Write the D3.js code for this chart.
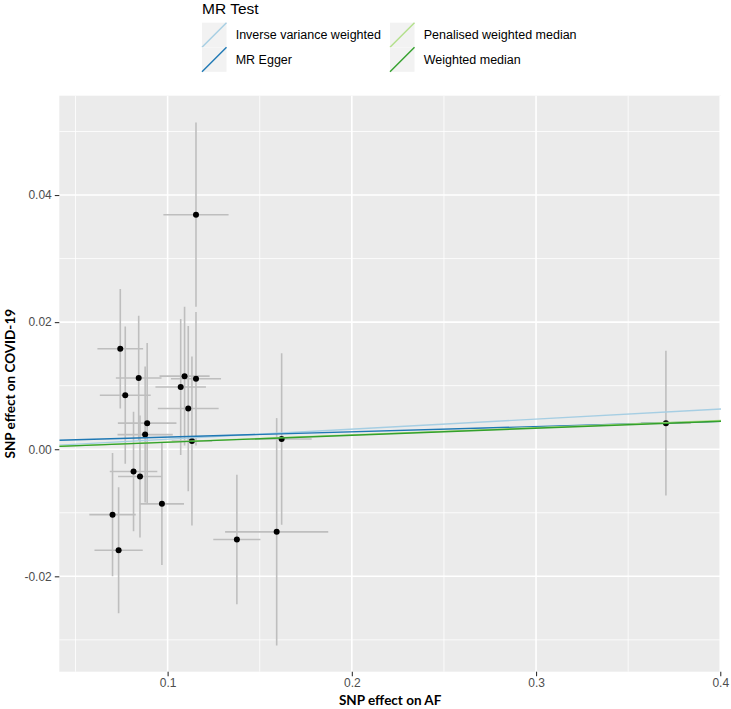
<!DOCTYPE html>
<html>
<head>
<meta charset="utf-8">
<script src="https://cdn.jsdelivr.net/npm/d3@7"></script>
<style>
  html, body { margin: 0; padding: 0; background: #ffffff; }
  svg { display: block; }
</style>
</head>
<body>
<svg id="chart" width="731" height="709"></svg>
<script>
// ---------------- DATA ----------------
const snpX   = [0.1154, 0.0743, 0.0843, 0.0770, 0.0889, 0.0878, 0.1092, 0.1154, 0.1071, 0.1112, 0.1132, 0.1619, 0.3705, 0.0815, 0.0850, 0.0969, 0.0701, 0.0734, 0.1376, 0.1592];
const snpY   = [0.0369, 0.0158, 0.0112, 0.0085, 0.0041, 0.0023, 0.0115, 0.0111, 0.0098, 0.0064, 0.0013, 0.0016, 0.0041, -0.0035, -0.0043, -0.0086, -0.0103, -0.0159, -0.0142, -0.0130];
const snpSeX = [0.0177, 0.0124, 0.0124, 0.0138, 0.0159, 0.0150, 0.0136, 0.0136, 0.0137, 0.0165, 0.0110, 0.0163, 0.0135, 0.0129, 0.0119, 0.0120, 0.0126, 0.0131, 0.0128, 0.0280];
const snpSeY = [0.0145, 0.0094, 0.0098, 0.0108, 0.0126, 0.0107, 0.0109, 0.0105, 0.0107, 0.0130, 0.0133, 0.0135, 0.0114, 0.0094, 0.0096, 0.0096, 0.0097, 0.0099, 0.0102, 0.0179];

const methods    = ["Inverse variance weighted", "MR Egger", "Penalised weighted median", "Weighted median"];
const slopes     = [0.0158, 0.0083, 0.0113, 0.0110];
const intercepts = [0.0, 0.00108, 0.0, 0.0];
const methodColors = ["#a6cee3", "#1f78b4", "#b2df8a", "#33a02c"];

const xMajorTicks = [0.1, 0.2, 0.3, 0.4];
const xTickLabels = ["0.1", "0.2", "0.3", "0.4"];
const xMinorTicks = [0.05, 0.15, 0.25, 0.35];
const yMajorTicks = [-0.02, 0.0, 0.02, 0.04];
const yTickLabels = ["-0.02", "0.00", "0.02", "0.04"];
const yMinorTicks = [-0.03, -0.01, 0.01, 0.03, 0.05];

const xTitle = "SNP effect on AF";
const yTitle = "SNP effect on COVID-19";
const legendTitle = "MR Test";

// ---------------- LAYOUT ----------------
const svg = d3.select("#chart");
const panel = { left: 59.3, right: 721, top: 95.7, bottom: 671.7 };

const x = d3.scaleLinear().domain([0.0412, 0.4004]).range([panel.left, panel.right]);
const y = d3.scaleLinear().domain([-0.03501, 0.05563]).range([panel.bottom, panel.top]);

const points = snpX.map((v, i) => ({ x: v, y: snpY[i], sx: snpSeX[i], sy: snpSeY[i] }));

// panel background
svg.append("rect")
  .attr("x", panel.left).attr("y", panel.top)
  .attr("width", panel.right - panel.left).attr("height", panel.bottom - panel.top)
  .attr("fill", "#ebebeb");

svg.append("clipPath").attr("id", "clip")
  .append("rect")
  .attr("x", panel.left).attr("y", panel.top)
  .attr("width", panel.right - panel.left).attr("height", panel.bottom - panel.top);

const grid = svg.append("g");
// minor grid
grid.selectAll(".vminor").data(xMinorTicks).enter().append("line")
  .attr("x1", d => x(d)).attr("x2", d => x(d))
  .attr("y1", panel.top).attr("y2", panel.bottom)
  .attr("stroke", "#ffffff").attr("stroke-width", 0.8);
grid.selectAll(".hminor").data(yMinorTicks).enter().append("line")
  .attr("y1", d => y(d)).attr("y2", d => y(d))
  .attr("x1", panel.left).attr("x2", panel.right)
  .attr("stroke", "#ffffff").attr("stroke-width", 0.8);
// major grid
grid.selectAll(".vmajor").data(xMajorTicks).enter().append("line")
  .attr("x1", d => x(d)).attr("x2", d => x(d))
  .attr("y1", panel.top).attr("y2", panel.bottom)
  .attr("stroke", "#ffffff").attr("stroke-width", 1.6);
grid.selectAll(".hmajor").data(yMajorTicks).enter().append("line")
  .attr("y1", d => y(d)).attr("y2", d => y(d))
  .attr("x1", panel.left).attr("x2", panel.right)
  .attr("stroke", "#ffffff").attr("stroke-width", 1.6);

const plot = svg.append("g").attr("clip-path", "url(#clip)");

// vertical error bars
plot.selectAll(".ev").data(points).enter().append("line")
  .attr("x1", d => x(d.x)).attr("x2", d => x(d.x))
  .attr("y1", d => y(d.y - d.sy)).attr("y2", d => y(d.y + d.sy))
  .attr("stroke", "#bebebe").attr("stroke-width", 1.6);
// horizontal error bars
plot.selectAll(".eh").data(points).enter().append("line")
  .attr("y1", d => y(d.y)).attr("y2", d => y(d.y))
  .attr("x1", d => x(d.x - d.sx)).attr("x2", d => x(d.x + d.sx))
  .attr("stroke", "#bebebe").attr("stroke-width", 1.6);
// points
plot.selectAll(".pt").data(points).enter().append("circle")
  .attr("cx", d => x(d.x)).attr("cy", d => y(d.y)).attr("r", 3)
  .attr("fill", "#000000");

// MR lines
const xd = x.domain();
plot.selectAll(".mr").data(methods.map((m, i) => ({ m, b: slopes[i], a: intercepts[i], c: methodColors[i] })))
  .enter().append("line")
  .attr("x1", x(xd[0])).attr("x2", x(xd[1]))
  .attr("y1", d => y(d.a + d.b * xd[0])).attr("y2", d => y(d.a + d.b * xd[1]))
  .attr("stroke", d => d.c).attr("stroke-width", 1.4);

// axes
const xAxis = d3.axisBottom(x).tickValues(xMajorTicks)
  .tickFormat((d, i) => xTickLabels[i]).tickSizeInner(4.5).tickSizeOuter(0).tickPadding(2.5);
const gx = svg.append("g").attr("transform", `translate(0,${panel.bottom})`).call(xAxis);
gx.select(".domain").remove();
gx.selectAll("line").attr("stroke", "#333333").attr("stroke-width", 1.1);
gx.selectAll("text").attr("fill", "#4d4d4d").attr("font-family", "Liberation Sans, Arial, sans-serif").attr("font-size", 12);

const yAxis = d3.axisLeft(y).tickValues(yMajorTicks)
  .tickFormat((d, i) => yTickLabels[i]).tickSizeInner(4.5).tickSizeOuter(0).tickPadding(3);
const gy = svg.append("g").attr("transform", `translate(${panel.left},0)`).call(yAxis);
gy.select(".domain").remove();
gy.selectAll("line").attr("stroke", "#333333").attr("stroke-width", 1.1);
gy.selectAll("text").attr("fill", "#4d4d4d").attr("font-family", "Liberation Sans, Arial, sans-serif").attr("font-size", 12);

// axis titles
svg.append("text")
  .attr("x", (panel.left + panel.right) / 2).attr("y", 705)
  .attr("text-anchor", "middle")
  .attr("font-family", "Lato, 'Open Sans', sans-serif").attr("font-weight", "bold").attr("font-size", 13.5)
  .attr("fill", "#000000").text(xTitle);
svg.append("text")
  .attr("transform", `translate(14.5,${(panel.top + panel.bottom) / 2}) rotate(-90)`)
  .attr("text-anchor", "middle")
  .attr("font-family", "Lato, 'Open Sans', sans-serif").attr("font-weight", "bold").attr("font-size", 13.5)
  .attr("fill", "#000000").text(yTitle);

// legend
const lg = svg.append("g");
lg.append("text").attr("x", 202).attr("y", 13.5)
  .attr("font-family", "Liberation Sans, Arial, sans-serif").attr("font-size", 15.5)
  .attr("fill", "#000000").text(legendTitle);
const keyW = 24.5, keyH = 24.5;
methods.forEach((m, i) => {
  const col = Math.floor(i / 2), row = i % 2;
  const kx = 202 + col * 188, ky = 22.7 + row * 24.6;
  lg.append("rect").attr("x", kx).attr("y", ky).attr("width", keyW).attr("height", keyH)
    .attr("fill", "#f2f2f2");
  lg.append("line").attr("x1", kx).attr("y1", ky + keyH).attr("x2", kx + keyW).attr("y2", ky)
    .attr("stroke", methodColors[i]).attr("stroke-width", 1.4);
  lg.append("text").attr("x", kx + 33.7).attr("y", ky + keyH / 2 + 4.4)
    .attr("font-family", "Liberation Sans, Arial, sans-serif").attr("font-size", 12.5)
    .attr("fill", "#000000").text(m);
});
</script>
</body>
</html>
